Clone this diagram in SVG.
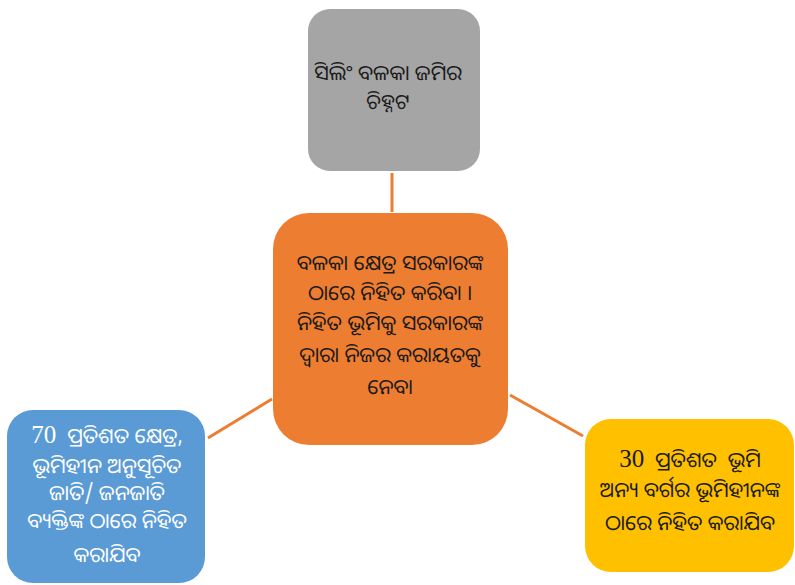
<svg xmlns="http://www.w3.org/2000/svg" width="795" height="585" viewBox="0 0 795 585">
<style>
.t{font-family:"Noto Sans Oriya","Noto Sans","DejaVu Sans",sans-serif;font-size:21px;text-anchor:middle;white-space:pre}
.n{font-family:"Liberation Serif",serif;font-size:25px}
.dk{fill:#1a1a1a}
.wh{fill:#ffffff}
.ln{stroke:#ED7D31;stroke-width:3;fill:none}
</style>
<rect width="795" height="585" fill="#ffffff"/>
<g id="connectors">
<line class="ln" x1="392" y1="173" x2="392" y2="212"/>
<line class="ln" x1="208" y1="438" x2="272" y2="399"/>
<line class="ln" x1="510" y1="395" x2="583" y2="436"/>
</g>
<g id="top">
<rect x="308" y="9" width="172" height="162" rx="22" fill="#A5A5A5"/>
<text class="t dk" x="388" y="80">ସିଲିଂ ବଳକା ଜମିର</text>
<text class="t dk" x="388" y="109">ଚିହ୍ନଟ</text>
</g>
<g id="center">
<rect x="273" y="213" width="235" height="232" rx="36" fill="#ED7D31"/>
<text class="t dk" x="390" y="270">ବଳକା କ୍ଷେତ୍ର ସରକାରଙ୍କ</text>
<text class="t dk" x="390" y="300">ଠାରେ ନିହିତ କରିବା ।</text>
<text class="t dk" x="390" y="330">ନିହିତ ଭୂମିକୁ ସରକାରଙ୍କ</text>
<text class="t dk" x="390" y="362">ଦ୍ୱାରା ନିଜର କରାୟତକୁ</text>
<text class="t dk" x="390" y="394">ନେବା</text>
</g>
<g id="left">
<rect x="7" y="410" width="198" height="173" rx="26" fill="#5B9BD5"/>
<text class="t wh" x="107" y="443"><tspan class="n">70</tspan>  ପ୍ରତିଶତ କ୍ଷେତ୍ର,</text>
<text class="t wh" x="107" y="473">ଭୂମିହୀନ ଅନୁସୂଚିତ</text>
<text class="t wh" x="107" y="500">ଜାତି/ ଜନଜାତି</text>
<text class="t wh" x="107" y="528">ବ୍ୟକ୍ତିଙ୍କ ଠାରେ ନିହିତ</text>
<text class="t wh" x="107" y="562">କରାଯିବ</text>
</g>
<g id="right">
<rect x="585" y="419" width="209" height="153" rx="26" fill="#FFC000"/>
<text class="t dk" x="690" y="467"><tspan class="n">30</tspan>  ପ୍ରତିଶତ  ଭୂମି</text>
<text class="t dk" x="690" y="497">ଅନ୍ୟ ବର୍ଗର ଭୂମିହୀନଙ୍କ</text>
<text class="t dk" x="690" y="530">ଠାରେ ନିହିତ କରାଯିବ</text>
</g>
</svg>
